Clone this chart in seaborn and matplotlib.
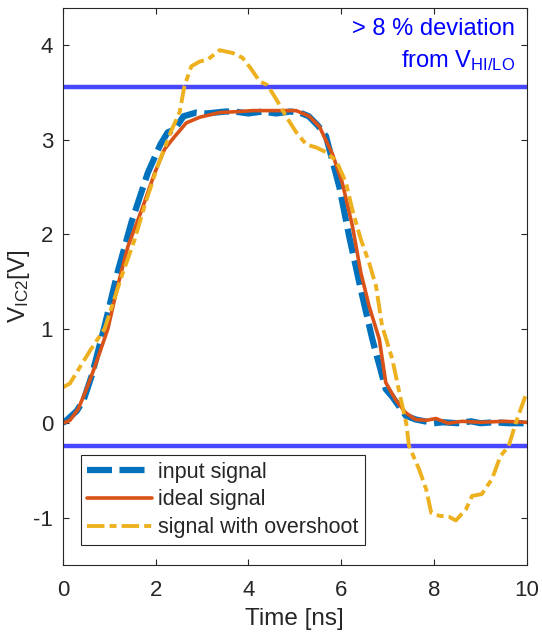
import numpy as np
import pandas as pd
import seaborn as sns
import matplotlib.pyplot as plt

# time axis values [ns] and voltages [V]
t_input = [0, 0.1, 0.3, 0.45, 0.62, 0.9, 1.18, 1.48, 1.83, 2.1, 2.26, 2.41, 2.6, 2.88, 3.1,
           3.5, 3.7, 4.0, 4.3, 4.6, 4.9, 5.1, 5.3, 5.5, 5.67, 5.96, 6.17, 6.42, 6.67, 6.96,
           7.1, 7.39, 7.6, 8.0, 8.2, 8.5, 8.8, 9.0, 9.3, 9.6, 10]
v_input = [0, 0.04, 0.13, 0.25, 0.5, 1.03, 1.6, 2.13, 2.65, 2.95, 3.08, 3.11, 3.25, 3.29, 3.28,
           3.3, 3.3, 3.28, 3.3, 3.28, 3.3, 3.29, 3.25, 3.15, 3.04, 2.5, 1.98, 1.42, 0.89, 0.36,
           0.28, 0.08, 0.04, 0.0, 0.01, 0.0, 0.02, 0.0, 0.01, 0.0, 0.0]

t_ideal = [0, 0.15, 0.33, 0.5, 0.69, 0.97, 1.18, 1.4, 1.7, 1.98, 2.19, 2.4, 2.66, 2.95, 3.38,
           3.8, 4.09, 4.6, 5.03, 5.31, 5.53, 5.81, 6.02, 6.24, 6.42, 6.6, 6.82, 6.96, 7.17,
           7.39, 7.6, 7.83, 8.04, 8.3, 8.6, 9.0, 9.5, 10]
v_ideal = [0, 0.03, 0.15, 0.35, 0.6, 1.0, 1.45, 1.87, 2.26, 2.65, 2.9, 3.03, 3.18, 3.24, 3.29,
           3.3, 3.31, 3.31, 3.31, 3.25, 3.14, 2.85, 2.55, 2.09, 1.6, 1.24, 0.89, 0.43, 0.25,
           0.11, 0.04, 0.03, 0.05, 0.0, 0.02, 0.01, 0.02, 0.01]

t_over = [0, 0.15, 0.35, 0.6, 0.9, 1.27, 1.55, 1.76, 2.04, 2.34, 2.52, 2.62, 2.77, 2.95, 3.12,
          3.38, 3.66, 3.87, 4.06, 4.24, 4.41, 4.6, 4.81, 5.03, 5.25, 5.46, 5.67, 5.89, 6.1,
          6.24, 6.42, 6.6, 6.75, 6.88, 7.1, 7.25, 7.4, 7.46, 7.68, 7.83, 7.94, 8.11, 8.32,
          8.47, 8.69, 8.82, 9.03, 9.25, 9.43, 9.61, 9.76, 9.97, 10]
v_over = [0.38, 0.42, 0.58, 0.78, 1.0, 1.56, 1.95, 2.3, 2.72, 3.1, 3.3, 3.57, 3.78, 3.83, 3.85,
          3.95, 3.92, 3.87, 3.75, 3.62, 3.58, 3.43, 3.25, 3.08, 2.95, 2.92, 2.87, 2.78, 2.55,
          2.26, 1.95, 1.7, 1.45, 1.03, 0.68, 0.33, 0.0, -0.24, -0.49, -0.7, -0.95, -0.98, -0.99,
          -1.03, -0.91, -0.77, -0.75, -0.59, -0.35, -0.24, 0.0, 0.29, 0.3]

# 8 % deviation limits around V_HI / V_LO
dev_limits = [3.564, -0.24]

labels = ['input signal', 'ideal signal', 'signal with overshoot']

sns.set_theme(style='ticks')
plt.rcParams['font.family'] = ['Liberation Sans', 'DejaVu Sans']
plt.rcParams['mathtext.fontset'] = 'custom'
plt.rcParams['mathtext.rm'] = 'Liberation Sans'
plt.rcParams['mathtext.it'] = 'Liberation Sans:italic'
plt.rcParams['axes.unicode_minus'] = False

fig = plt.figure(figsize=(5.42, 6.39), dpi=100)
ax = fig.add_axes([0.116, 0.116, 0.856, 0.872])

df_in = pd.DataFrame({'t': t_input, 'v': v_input})
df_id = pd.DataFrame({'t': t_ideal, 'v': v_ideal})
df_ov = pd.DataFrame({'t': t_over, 'v': v_over})

sns.lineplot(data=df_in, x='t', y='v', ax=ax, color='#0072BD', lw=4.5, label=labels[0])
ax.lines[-1].set_dashes((4, 1.2))
sns.lineplot(data=df_id, x='t', y='v', ax=ax, color='#D95319', lw=2.6, label=labels[1])
sns.lineplot(data=df_ov, x='t', y='v', ax=ax, color='#EDB120', lw=2.8, label=labels[2])
ax.lines[-1].set_dashes((4.5, 1.3, 1.8, 1.3))

for lim in dev_limits:
    ax.axhline(lim, color='#4747FF', lw=3.2, zorder=1)

ax.text(0.975, 0.982, '> 8 % deviation\nfrom V$_{\\mathrm{HI/LO}}$', transform=ax.transAxes,
        ha='right', va='top', color='#0000FF', fontsize=17, linespacing=1.45)

ax.set_xlim(0, 10)
ax.set_ylim(-1.5, 4.4)
ax.set_xticks([0, 2, 4, 6, 8, 10])
ax.set_yticks([-1, 0, 1, 2, 3, 4])
ax.tick_params(direction='in', top=True, right=True, length=4.5, width=0.8,
               labelsize=16, colors='#262626')
ax.tick_params(axis='x', pad=11)
ax.tick_params(axis='y', pad=7)
for s in ax.spines.values():
    s.set_color('#262626')
    s.set_linewidth(0.8)

ax.set_xlabel('Time [ns]', fontsize=17.5, color='#262626', labelpad=5)
ax.set_ylabel('V$_{\\mathrm{IC2}}$[V]', fontsize=17.5, color='#262626', labelpad=1)

leg = ax.legend(loc='upper left', bbox_to_anchor=(0.039, 0.197), borderaxespad=0,
                fontsize=15.5, frameon=True, fancybox=False, framealpha=1,
                edgecolor='#262626', handlelength=3.0, handletextpad=0.3,
                labelspacing=0.32, borderpad=0.3)
leg.get_frame().set_linewidth(0.8)

fig.savefig('out.png', dpi=100)
